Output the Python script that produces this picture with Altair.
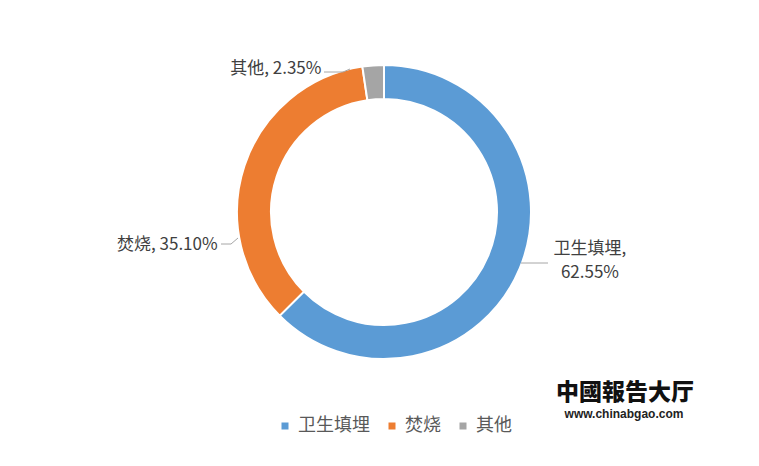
import altair as alt
import pandas as pd

# Treatment methods and their shares (%)
categories = ["卫生填埋", "焚烧", "其他"]
shares = [62.55, 35.10, 2.35]
colors = ["#5B9BD5", "#ED7D31", "#A5A5A5"]

df = pd.DataFrame({"category": categories, "share": shares, "idx": list(range(len(categories)))})

CX, CY = 384, 212
FONT = "Noto Sans CJK SC"

base = alt.Chart(df).encode(
    theta=alt.Theta("share:Q", stack=True),
    order=alt.Order("idx:Q"),
    x=alt.value(CX),
    y=alt.value(CY),
)

ring = base.mark_arc(innerRadius=113, outerRadius=147, stroke="white", strokeWidth=2).encode(
    color=alt.Color(
        "category:N",
        sort=categories,
        scale=alt.Scale(domain=categories, range=colors),
        legend=alt.Legend(
            title=None,
            orient="none",
            legendX=276,
            legendY=417,
            direction="horizontal",
            symbolType="square",
            symbolSize=49,
            symbolStrokeWidth=0,
            labelFontSize=18,
            labelFont=FONT,
            labelColor="#595959",
            labelOffset=4,
            columnPadding=13,
            padding=0,
        ),
    )
)

# Every label layer keeps all slices so the stacked angles stay intact;
# only the slice it belongs to gets a non-empty text.
labelled = base.transform_calculate(
    landfill="datum.category == '卫生填埋' ? [datum.category + ',', format(datum.share, '.2f') + '%'] : ''",
    burn="datum.category == '焚烧' ? datum.category + ', ' + format(datum.share, '.2f') + '%' : ''",
    other="datum.category == '其他' ? datum.category + ', ' + format(datum.share, '.2f') + '%' : ''",
)

text_style = dict(font=FONT, fontSize=17, color="#404040", radius=170)

label_landfill = labelled.mark_text(
    align="center", baseline="top", dx=49, dy=-36, lineHeight=24, **text_style
).encode(text="landfill:N")

label_burn = labelled.mark_text(
    align="right", baseline="middle", dx=-5, dy=87, **text_style
).encode(text="burn:N")

label_other = labelled.mark_text(
    align="right", baseline="middle", dx=-50, dy=27, **text_style
).encode(text="other:N")

# Leader lines from the labels to the ring
leader_segments = [
    (324, 72, 343, 72), (343, 72, 350, 69),
    (221, 244, 231, 244), (231, 244, 238, 238),
    (521, 263, 548, 263),
]
leaders = [
    alt.Chart(df).mark_rule(color="#a6a6a6", strokeWidth=1).encode(
        x=alt.value(x1), x2=alt.value(x2), y=alt.value(y1), y2=alt.value(y2)
    ).transform_filter(alt.datum.idx == 0)
    for (x1, y1, x2, y2) in leader_segments
]

# Publisher mark in the lower right
brand = alt.Chart(df).transform_filter(alt.datum.idx == 0).mark_text(
    font=FONT, fontSize=23, fontWeight=900, color="#111111", align="center", baseline="middle"
).encode(x=alt.value(625), y=alt.value(393), text=alt.value("中國報告大厅"))

site = alt.Chart(df).transform_filter(alt.datum.idx == 0).mark_text(
    font="Liberation Sans", fontSize=12, fontWeight="bold", color="#222222", align="center", baseline="middle"
).encode(x=alt.value(624), y=alt.value(414), text=alt.value("www.chinabgao.com"))

chart = alt.layer(ring, label_landfill, label_burn, label_other, *leaders, brand, site).properties(
    width=759,
    height=466,
    autosize=alt.AutoSizeParams(type="none"),
    padding=0,
    background="white",
).configure_view(stroke=None)

chart.save("out.html", embed_options={"renderer": "svg", "actions": False})
